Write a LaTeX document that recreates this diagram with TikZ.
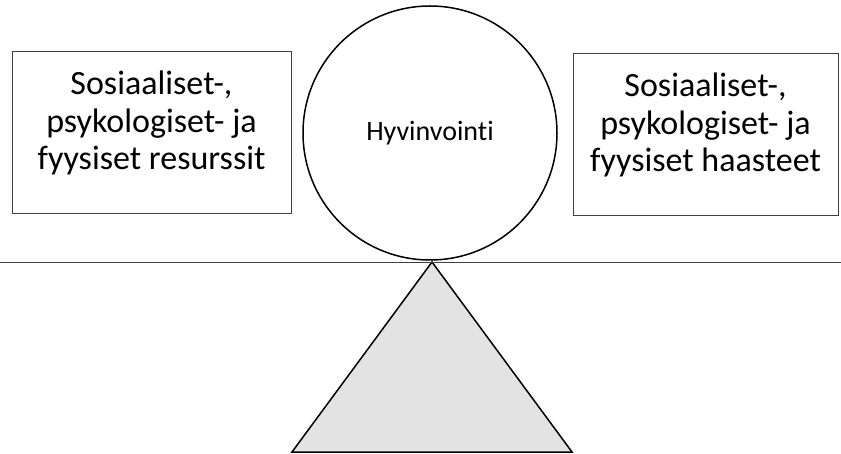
\documentclass[tikz,border=0pt]{standalone}
\usepackage{fontspec}
\setmainfont{Carlito}[Ligatures=NoCommon]
\usepackage{tikz}

\tikzset{
  laatikko/.style={draw=black!75, line width=0.8pt, inner sep=0pt, minimum height=162pt},
  teksti/.style={align=center, inner sep=0pt, font=\fontsize{34}{37.5}\selectfont},
  pallo/.style={draw, circle, line width=1.5pt, minimum size=254pt, inner sep=0pt,
    font=\fontsize{28}{32}\selectfont}
}

\begin{document}
\begin{tikzpicture}[x=1pt,y=-1pt]
		\useasboundingbox (0,0) rectangle (841,454);
		% vaaka
		\coordinate (tuki) at (432,262) ;
		\draw[line width=1.5pt, fill=black!11] (tuki) -- (572,452) -- (292,452) -- cycle ;
		\draw[black!75, line width=0.8pt] (0,262) -- (841,262) ;
		\node[pallo] (hyvinvointi) at (430,133) {Hyvinvointi} ;
		\node[laatikko, minimum width=279pt] (resurssit) at (151.5,132) {} ;
		\node[laatikko, minimum width=265pt] (haasteet) at (705.5,134) {} ;
		\node[teksti] (resurssit-teksti) at ([yshift=9pt]resurssit.center) {Sosiaaliset-,\\psykologiset- ja\\fyysiset resurssit} ;
		\node[teksti] (haasteet-teksti) at ([yshift=9pt]haasteet.center) {Sosiaaliset-,\\psykologiset- ja\\fyysiset haasteet} ;
	\end{tikzpicture}
\end{document}
